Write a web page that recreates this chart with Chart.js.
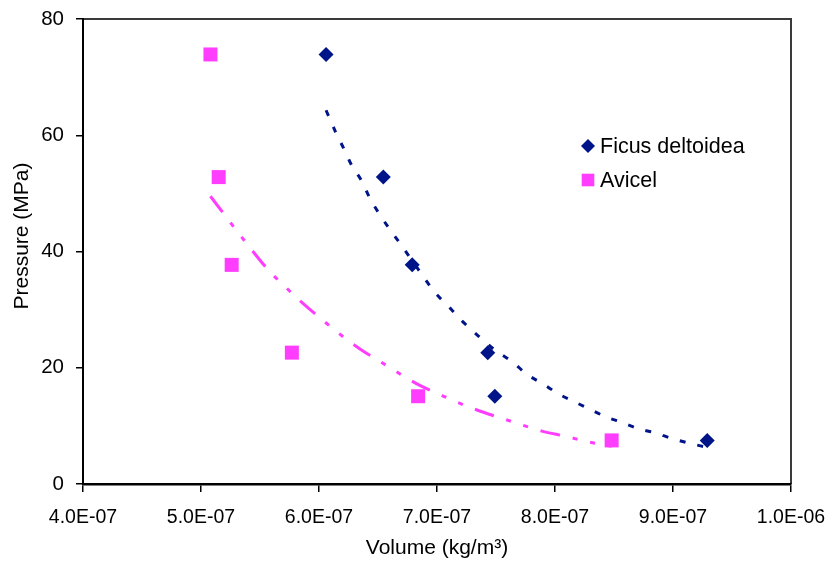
<!DOCTYPE html>
<html>
<head>
<meta charset="utf-8">
<script src="https://cdn.jsdelivr.net/npm/chart.js@4.4.1/dist/chart.umd.min.js"></script>
<style>
    html, body { margin: 0; padding: 0; background: #fff; }
    #wrap { width: 835px; height: 561px; }
</style>
</head>
<body>
<div id="wrap"><canvas id="pressureChart" width="835" height="561"></canvas></div>
<script>
// Compaction data: volume (kg/m3) vs applied pressure (MPa)
const seriesNames = ["Ficus deltoidea", "Avicel"];

const ficusVolume = [6.06e-7, 6.545e-7, 6.79e-7, 7.43e-7, 7.49e-7, 9.29e-7];
const ficusPressure = [73.9, 52.8, 37.7, 22.6, 15.1, 7.5];

const avicelVolume = [5.08e-7, 5.15e-7, 5.26e-7, 5.77e-7, 6.84e-7, 8.48e-7];
const avicelPressure = [73.9, 52.8, 37.7, 22.6, 15.1, 7.5];

// trend lines (exponential fit curves)
const ficusTrendVolume = [6.06e-7, 6.14e-7, 6.21e-7, 6.28e-7, 6.36e-7, 6.43e-7, 6.51e-7, 6.59e-7, 6.69e-7,
    6.88e-7, 6.98e-7, 7.10e-7, 7.22e-7, 7.36e-7, 7.50e-7, 7.64e-7, 7.76e-7, 7.90e-7, 8.03e-7,
    8.17e-7, 8.31e-7, 8.44e-7, 8.58e-7, 8.71e-7, 8.85e-7, 8.98e-7, 9.12e-7, 9.29e-7];
const ficusTrendPressure = [64.3, 60.6, 57.7, 54.7, 52.2, 49.2, 46.5, 44.1, 41.3,
    35.8, 33.0, 30.5, 27.9, 25.3, 22.9, 21.0, 18.9, 17.2, 15.5,
    14.1, 12.7, 11.5, 10.5, 9.5, 8.8, 7.9, 7.1, 6.3];

const avicelTrendVolume = [5.08e-7, 5.20e-7, 5.39e-7, 5.58e-7, 5.70e-7, 5.84e-7, 6.09e-7, 6.22e-7, 6.35e-7,
    6.62e-7, 6.73e-7, 6.85e-7, 6.99e-7, 7.25e-7, 7.61e-7, 7.89e-7, 8.09e-7, 8.29e-7, 8.48e-7];
const avicelTrendPressure = [49.5, 46.3, 41.3, 36.6, 34.2, 31.5, 27.2, 25.1, 23.2,
    19.8, 18.4, 17.0, 15.7, 13.4, 10.9, 9.1, 8.2, 7.2, 6.5];

const xTicks = [4e-7, 5e-7, 6e-7, 7e-7, 8e-7, 9e-7, 1e-6];
const yTicks = [0, 20, 40, 60, 80];
const yTitle = 'Pressure (MPa)';

const NAVY = '#001489';
const PINK = '#ff3dff';
const FONT = "'Liberation Sans', Arial, sans-serif";

const toPoints = (xs, ys) => xs.map((x, i) => ({ x: x, y: ys[i] }));

// 4.0E-07 style labels
const sciLabel = (v) => {
    const [m, e] = Number(v).toExponential(1).split('e');
    const n = parseInt(e, 10);
    return m + 'E' + (n < 0 ? '-' : '+') + String(Math.abs(n)).padStart(2, '0');
};

// frame on the top and right of the plot area
const plotFrame = {
    id: 'plotFrame',
    beforeDraw(chart) {
        const { ctx, chartArea: a } = chart;
        ctx.save();
        ctx.strokeStyle = '#3a3a3a';
        ctx.lineWidth = 2;
        ctx.beginPath();
        ctx.moveTo(a.left, a.top);
        ctx.lineTo(a.right, a.top);
        ctx.lineTo(a.right, a.bottom);
        ctx.stroke();
        ctx.restore();
    }
};

// rotated y axis title, sitting a little above the middle of the axis
const yAxisTitle = {
    id: 'yAxisTitle',
    afterDraw(chart) {
        const { ctx, chartArea: a } = chart;
        ctx.save();
        ctx.translate(22, a.top + 217);
        ctx.rotate(-Math.PI / 2);
        ctx.font = '21px ' + FONT;
        ctx.fillStyle = '#000';
        ctx.textAlign = 'center';
        ctx.textBaseline = 'middle';
        ctx.fillText(yTitle, 0, 0);
        ctx.restore();
    }
};

// legend sits inside the plot, upper right
const insideLegend = {
    id: 'insideLegend',
    afterDraw(chart) {
        const { ctx, chartArea: a } = chart;
        const mx = a.right - 203;
        const rows = [
            { label: seriesNames[0], color: NAVY, shape: 'diamond', y: a.top + 127 },
            { label: seriesNames[1], color: PINK, shape: 'square', y: a.top + 161 }
        ];
        ctx.save();
        ctx.font = '21.5px ' + FONT;
        ctx.textBaseline = 'middle';
        ctx.textAlign = 'left';
        rows.forEach(r => {
            ctx.fillStyle = r.color;
            ctx.beginPath();
            if (r.shape === 'diamond') {
                ctx.moveTo(mx, r.y - 7);
                ctx.lineTo(mx + 7, r.y);
                ctx.lineTo(mx, r.y + 7);
                ctx.lineTo(mx - 7, r.y);
                ctx.closePath();
            } else {
                ctx.rect(mx - 6.3, r.y - 6.3, 12.6, 12.6);
            }
            ctx.fill();
            ctx.fillStyle = '#000';
            ctx.fillText(r.label, mx + 12, r.y + 1);
        });
        ctx.restore();
    }
};

const ctx = document.getElementById('pressureChart').getContext('2d');
new Chart(ctx, {
    type: 'scatter',
    data: {
        datasets: [
            {
                label: seriesNames[0],
                data: toPoints(ficusVolume, ficusPressure),
                pointStyle: 'rectRot',
                pointRadius: 7.5,
                backgroundColor: NAVY,
                borderColor: NAVY,
                borderWidth: 0,
                order: 1
            },
            {
                label: seriesNames[1],
                data: toPoints(avicelVolume, avicelPressure),
                pointStyle: 'rect',
                pointRadius: 9.9,
                backgroundColor: PINK,
                borderColor: PINK,
                borderWidth: 0,
                order: 1
            },
            {
                label: 'Ficus trend',
                data: toPoints(ficusTrendVolume, ficusTrendPressure),
                showLine: true,
                pointRadius: 0,
                borderColor: NAVY,
                borderWidth: 3,
                borderDash: [6, 12],
                cubicInterpolationMode: 'monotone',
                order: 2
            },
            {
                label: 'Avicel trend',
                data: toPoints(avicelTrendVolume, avicelTrendPressure),
                showLine: true,
                pointRadius: 0,
                borderColor: PINK,
                borderWidth: 3,
                borderDash: [20, 13, 5, 13, 5, 13],
                cubicInterpolationMode: 'monotone',
                order: 2
            }
        ]
    },
    options: {
        responsive: false,
        animation: false,
        devicePixelRatio: 1,
        layout: { padding: { top: 19, right: 44, left: 0, bottom: 0 } },
        plugins: {
            legend: { display: false },
            tooltip: { enabled: false }
        },
        scales: {
            x: {
                type: 'linear',
                min: xTicks[0],
                max: xTicks[xTicks.length - 1],
                afterFit: (scale) => {
                    scale.height = 77;
                    scale.paddingLeft = 0;
                    scale.paddingRight = 0;
                },
                afterBuildTicks: (scale) => { scale.ticks = xTicks.map(v => ({ value: v })); },
                border: { color: '#000', width: 2.5 },
                grid: { drawOnChartArea: false, color: '#000', lineWidth: 1.5, tickLength: 8 },
                ticks: {
                    color: '#000',
                    font: { family: FONT, size: 19.5 },
                    padding: 14,
                    maxRotation: 0,
                    callback: (v) => sciLabel(v)
                },
                title: {
                    display: true,
                    text: 'Volume (kg/m³)',
                    color: '#000',
                    font: { family: FONT, size: 21 },
                    padding: { top: 0, bottom: 0 }
                }
            },
            y: {
                min: yTicks[0],
                max: yTicks[yTicks.length - 1],
                afterFit: (scale) => {
                    scale.width = 83;
                    scale.paddingTop = 0;
                    scale.paddingBottom = 0;
                },
                afterBuildTicks: (scale) => { scale.ticks = yTicks.map(v => ({ value: v })); },
                border: { color: '#000', width: 2 },
                grid: { drawOnChartArea: false, color: '#000', lineWidth: 1.5, tickLength: 7 },
                ticks: {
                    color: '#000',
                    font: { family: FONT, size: 20.5 },
                    padding: 12
                },
                title: { display: false }
            }
        }
    },
    plugins: [plotFrame, yAxisTitle, insideLegend]
});
</script>
</body>
</html>
